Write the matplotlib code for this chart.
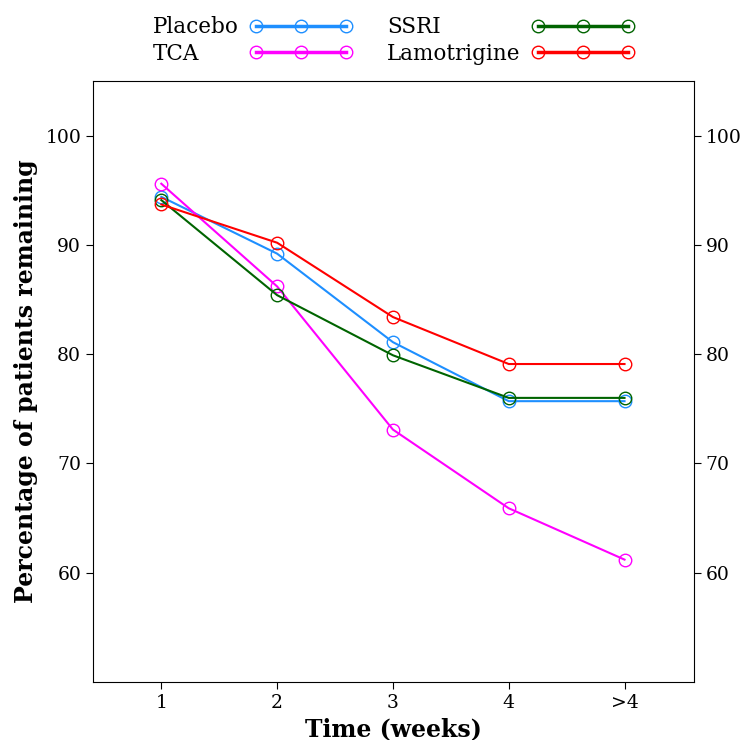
import numpy as np
import matplotlib.pyplot as plt

plt.rcParams['font.family'] = ['DejaVu Serif']

# Data
weeks = ['1', '2', '3', '4', '>4']
placebo = [94.4, 89.2, 81.1, 75.7, 75.7]
tca = [95.6, 86.2, 73.1, 65.9, 61.2]
ssri = [94.1, 85.4, 79.9, 76.0, 76.0]
lamotrigine = [93.7, 90.2, 83.4, 79.1, 79.1]

x = np.arange(1, len(weeks) + 1)

fig = plt.figure(figsize=(7.42, 7.40), dpi=100)
ax = fig.add_axes([93 / 742, 1 - 682 / 740, (694 - 93) / 742, (682 - 81) / 740])

series = [('Placebo', placebo, '#1E8FFF'),
          ('TCA', tca, '#FF00FF'),
          ('SSRI', ssri, '#006400'),
          ('Lamotrigine', lamotrigine, '#FF0000')]

for name, vals, col in series:
    ax.plot(x, vals, color=col, lw=1.5, marker='o', ms=9, mfc='none',
            mec=col, mew=1, label=name)

ax.set_xlim(0.41, 5.6)
ax.set_ylim(50, 105)
ax.set_xticks(x)
ax.set_xticklabels(weeks)
ax.set_yticks([60, 70, 80, 90, 100])
ax.tick_params(axis='both', direction='out', length=5, labelsize=13.5)
ax.tick_params(axis='y', right=True, labelright=True)

ax.set_xlabel('Time (weeks)', fontsize=17, fontweight='bold', labelpad=4)
ax.set_ylabel('Percentage of patients remaining', fontsize=17,
              fontweight='bold', labelpad=5)

leg = ax.legend(loc='lower center', bbox_to_anchor=(0.5, 1.0), ncol=2,
                frameon=False, markerfirst=False, numpoints=3,
                handlelength=4.8, fontsize=15.5, columnspacing=1.6,
                handletextpad=0.5, labelspacing=0.22, borderaxespad=0.35)
for line in leg.get_lines():
    line.set_linewidth(2.5)

# left-align the labels while keeping the handles right-aligned in each column
fig.canvas.draw()
r = fig.canvas.get_renderer()
for column in leg._legend_handle_box.get_children():
    items = column.get_children()
    widths = [it.get_children()[0].get_bbox(r).width for it in items]
    wmax = max(widths)
    for it, w in zip(items, widths):
        it.sep = it.sep + (wmax - w) * 72 / fig.dpi

fig.savefig('out.png', dpi=100)
